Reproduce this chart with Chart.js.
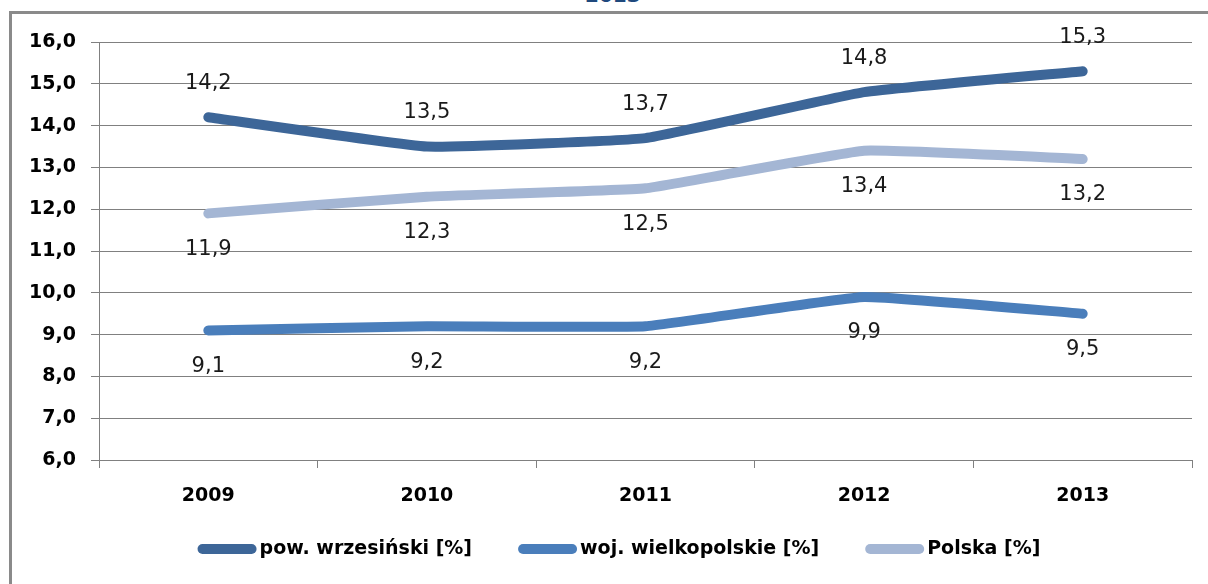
<!DOCTYPE html>
<html>
<head>
<meta charset="utf-8">
<script src="https://cdn.jsdelivr.net/npm/chart.js@4"></script>
<style>
  html, body { margin: 0; padding: 0; background: #fff; overflow: hidden; width: 1208px; height: 584px; }
  #frame { position: absolute; left: 9px; top: 11px; width: 1300px; height: 700px; border: 3px solid #8a8a8a; }
  #title { position: absolute; left: 585px; top: -17px; font: bold 20px "DejaVu Sans"; color: #1f497d; }
  canvas { position: absolute; left: 0; top: 0; }
</style>
</head>
<body>
<div id="frame"></div>
<div id="title">2013</div>
<canvas id="chart" width="1208" height="584"></canvas>
<script>
const years = ["2009", "2010", "2011", "2012", "2013"];
const powiat = [14.2, 13.5, 13.7, 14.8, 15.3];
const wojewodztwo = [9.1, 9.2, 9.2, 9.9, 9.5];
const polska = [11.9, 12.3, 12.5, 13.4, 13.2];
const seriesNames = ["pow. wrzesiński [%]", "woj. wielkopolskie [%]", "Polska [%]"];

const gridGray = "#808080";
const fmt = v => v.toFixed(1).replace(".", ",");

// value labels above / below the points
const valueLabels = {
  id: "valueLabels",
  afterDatasetsDraw(chart) {
    const ctx = chart.ctx;
    ctx.save();
    ctx.font = "21px 'DejaVu Sans'";
    ctx.fillStyle = "#1a1a1a";
    ctx.textAlign = "center";
    ctx.textBaseline = "middle";
    chart.data.datasets.forEach((ds, i) => {
      const meta = chart.getDatasetMeta(i);
      meta.data.forEach((pt, j) => {
        const dy = ds.labelPos === "above" ? -34 : 36;
        ctx.fillText(fmt(ds.data[j]), pt.x, pt.y + dy);
      });
    });
    ctx.restore();
  }
};

// legend along the bottom: short thick line + name
const bottomLegend = {
  id: "bottomLegend",
  afterDraw(chart) {
    const ctx = chart.ctx;
    const sample = 49, gapText = 8, gapItem = 51, y = 549;
    ctx.save();
    ctx.font = "bold 19px 'DejaVu Sans'";
    const dss = chart.data.datasets;
    const widths = dss.map(ds => ctx.measureText(ds.label).width);
    let total = gapItem * (dss.length - 1);
    widths.forEach(w => total += sample + gapText + w);
    let x = 621.5 - total / 2;
    dss.forEach((ds, i) => {
      ctx.strokeStyle = ds.borderColor;
      ctx.lineWidth = 10;
      ctx.lineCap = "round";
      ctx.beginPath();
      ctx.moveTo(x, y);
      ctx.lineTo(x + sample, y);
      ctx.stroke();
      x += sample + gapText;
      ctx.fillStyle = "#000";
      ctx.textBaseline = "middle";
      ctx.fillText(ds.label, x, y);
      x += widths[i] + gapItem;
    });
    ctx.restore();
  }
};

function line(label, data, color, pos) {
  return {
    label, data, labelPos: pos,
    borderColor: color, backgroundColor: color,
    borderWidth: 10, borderCapStyle: "round", borderJoinStyle: "round",
    pointRadius: 0, tension: 0.1, fill: false
  };
}

new Chart(document.getElementById("chart"), {
  type: "line",
  data: {
    labels: years,
    datasets: [
      line(seriesNames[0], powiat, "#3d6698", "above"),
      line(seriesNames[1], wojewodztwo, "#4a7ebb", "below"),
      line(seriesNames[2], polska, "#a4b6d4", "below")
    ]
  },
  options: {
    responsive: false,
    animation: false,
    devicePixelRatio: 1,
    layout: { padding: { left: 0, right: 16, top: 42, bottom: 0 } },
    plugins: {
      tooltip: { enabled: false },
      legend: { display: false }
    },
    scales: {
      x: {
        offset: true,
        afterFit(s) { s.height = 124; },
        grid: { offset: true, drawOnChartArea: false, drawTicks: true, tickLength: 8, color: gridGray, tickColor: gridGray },
        border: { display: true, color: gridGray },
        ticks: { color: "#000", padding: 17, font: { family: "DejaVu Sans", size: 19, weight: "bold" } }
      },
      y: {
        min: 6, max: 16,
        afterFit(s) { s.width = 99; },
        grid: { color: gridGray, tickColor: gridGray, tickLength: 8, lineWidth: 1 },
        border: { display: true, color: gridGray },
        ticks: { stepSize: 1, color: "#000", padding: 15, callback: v => fmt(v), font: { family: "DejaVu Sans", size: 19, weight: "bold" } }
      }
    }
  },
  plugins: [valueLabels, bottomLegend]
});
</script>
</body>
</html>
